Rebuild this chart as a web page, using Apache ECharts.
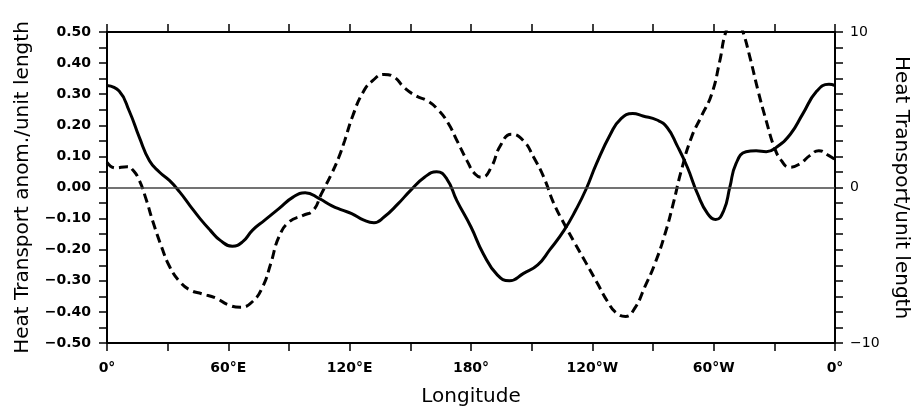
<!DOCTYPE html>
<html>
<head>
<meta charset="utf-8">
<title>Heat Transport</title>
<script src="https://cdn.jsdelivr.net/npm/echarts@6.0.0/dist/echarts.min.js"></script>
<style>
	html, body { margin: 0; padding: 0; background: #fff; }
	#main { width: 919px; height: 412px; }
</style>
</head>
<body>
<div id="main"></div>
<script>
// 经度刻度
var lonTicks = [0, 60, 120, 180, 240, 300, 360];
var lonLabels = ['0°', '60°E', '120°E', '180°', '120°W', '60°W', '0°'];

// 实线: Heat Transport anom./unit length (左轴)
var solidLon = [0, 6, 11, 16, 21, 26, 31, 36, 41, 46, 51, 56, 62, 67, 72, 78, 85, 92, 98, 105,
	111, 116, 121, 127, 132, 137, 144, 150, 157, 163, 168, 173, 180, 186, 193, 199, 206, 213, 219, 226,
	232, 237, 242, 249, 254, 260, 265, 272, 277, 282, 287, 292, 297, 301, 305, 308, 311, 316, 321, 326,
	331, 338, 344, 351, 357, 360];
var solidVal = [0.328, 0.31, 0.246, 0.161, 0.086, 0.049, 0.022, -0.015, -0.058, -0.10, -0.137, -0.17, -0.189, -0.175, -0.137, -0.105, -0.068, -0.031, -0.017, -0.036,
	-0.058, -0.072, -0.084, -0.105, -0.113, -0.095, -0.052, -0.01, 0.033, 0.051, 0.028, -0.042, -0.127, -0.212, -0.281, -0.30, -0.276, -0.249, -0.20, -0.138,
	-0.07, -0.004, 0.076, 0.172, 0.22, 0.238, 0.23, 0.217, 0.193, 0.134, 0.065, -0.02, -0.084, -0.103, -0.074, 0.001, 0.076, 0.115, 0.118, 0.115,
	0.129, 0.172, 0.236, 0.31, 0.332, 0.328];

// 虚线: Heat Transport/unit length (右轴)
var dashLon = [0, 4, 10, 13, 16, 19, 23, 27, 31, 36, 41, 47, 54, 60, 66, 72, 77, 81, 85, 90,
	97, 102, 106, 111, 114.5, 117.5, 121.5, 126.5, 131.5, 137, 142, 147, 153, 158.5, 163.5, 168.5, 173.5, 178, 182, 185.5,
	190, 194.5, 200, 206, 211, 216, 221, 226, 231, 237, 242.5, 247.5, 252, 256.5, 261, 266, 271, 276, 280, 284,
	289, 294, 299, 303, 306, 310.5, 314.5, 318, 322, 326, 330, 333.5, 337.5, 342.5, 347.5, 352, 357, 360];
var dashVal = [1.62, 1.26, 1.34, 1.09, 0.45, -0.62, -2.32, -3.82, -5.1, -6.06, -6.59, -6.84, -7.12, -7.55, -7.7, -7.33, -6.38, -4.88, -3.18, -2.22,
	-1.79, -1.47, -0.41, 0.87, 1.9, 3.0, 4.6, 6.1, 6.89, 7.27, 7.1, 6.42, 5.88, 5.57, 5.03, 4.18, 2.9, 1.73, 0.87, 0.66,
	1.3, 2.69, 3.43, 3.0, 1.94, 0.66, -1.04, -2.32, -3.5, -4.88, -6.16, -7.33, -8.08, -8.29, -7.76, -6.38, -4.88, -2.96, -1.04, 1.09,
	3.22, 4.6, 6.0, 8.12, 10.0, 11.3, 10.0, 8.34, 6.2, 4.29, 2.58, 1.73, 1.3, 1.51, 2.05, 2.37, 2.05, 1.8];

var solidData = solidLon.map(function(x, i) { return [x, solidVal[i]]; });
var dashData = dashLon.map(function(x, i) { return [x, dashVal[i]]; });

var fontName = 'DejaVu Sans';
var minus = function(s) { return String(s).replace('-', '\u2212'); };

var myChart = echarts.init(document.getElementById('main'));

var axisLineStyle = { color: '#000', width: 2 };
var tickStyle = { color: '#000', width: 1.5 };

var option = {
	animation: false,
	backgroundColor: '#fff',
	grid: {
		left: 107,
		right: 80,
		top: 32,
		bottom: 67
	},
	xAxis: [{
		type: 'value',
		min: 0,
		max: 360,
		interval: 30,
		position: 'bottom',
		name: 'Longitude',
		nameLocation: 'middle',
		nameGap: 44,
		nameTextStyle: { fontFamily: fontName, fontSize: 20, color: '#000' },
		axisLine: { onZero: false, lineStyle: axisLineStyle },
		axisTick: { length: 8, lineStyle: tickStyle },
		splitLine: { show: false },
		axisLabel: {
			margin: 18,
			fontFamily: fontName,
			fontSize: 14,
			fontWeight: 'bold',
			color: '#000',
			formatter: function(v) {
				var k = lonTicks.indexOf(v);
				return k >= 0 ? lonLabels[k] : '';
			}
		}
	}, {
		type: 'value',
		min: 0,
		max: 360,
		interval: 30,
		position: 'top',
		axisLine: { onZero: false, lineStyle: axisLineStyle },
		axisTick: { length: 8, lineStyle: tickStyle },
		splitLine: { show: false },
		axisLabel: { show: false }
	}],
	yAxis: [{
		type: 'value',
		min: -0.5,
		max: 0.5,
		interval: 0.1,
		position: 'left',
		name: 'Heat Transport anom./unit length',
		nameLocation: 'middle',
		nameGap: 74,
		nameTextStyle: { fontFamily: fontName, fontSize: 20, color: '#000' },
		axisLine: { show: true, onZero: false, lineStyle: axisLineStyle },
		axisTick: { show: true, length: 8, lineStyle: tickStyle },
		minorTick: { show: true, splitNumber: 2, length: 8, lineStyle: tickStyle },
		splitLine: { show: false },
		axisLabel: {
			margin: 16,
			fontFamily: fontName,
			fontSize: 14,
			fontWeight: 'bold',
			color: '#000',
			formatter: function(v) { return minus(v.toFixed(2)); }
		}
	}, {
		type: 'value',
		min: -10,
		max: 10,
		interval: 10,
		position: 'right',
		name: 'Heat Transport/unit length',
		nameLocation: 'middle',
		nameRotate: -90,
		nameGap: 56,
		nameTextStyle: { fontFamily: fontName, fontSize: 20, color: '#000' },
		axisLine: { show: true, onZero: false, lineStyle: axisLineStyle },
		axisTick: { show: true, length: 8, lineStyle: tickStyle },
		minorTick: { show: true, splitNumber: 10, length: 8, lineStyle: tickStyle },
		splitLine: { show: false },
		axisLabel: {
			margin: 15,
			fontFamily: fontName,
			fontSize: 14,
			color: '#000',
			formatter: function(v) { return minus(v); }
		}
	}],
	series: [{
		name: 'anom',
		type: 'line',
		xAxisIndex: 0,
		yAxisIndex: 0,
		data: solidData,
		showSymbol: false,
		smooth: 0.5,
		lineStyle: { color: '#000', width: 3 },
		markLine: {
			silent: true,
			symbol: ['none', 'none'],
			label: { show: false },
			lineStyle: { color: '#444', width: 1.5, type: 'solid' },
			data: [{ yAxis: 0 }]
		}
	}, {
		name: 'total',
		type: 'line',
		xAxisIndex: 0,
		yAxisIndex: 1,
		data: dashData,
		showSymbol: false,
		smooth: 0.5,
		clip: true,
		lineStyle: { color: '#000', width: 3, type: [9, 5] }
	}]
};

myChart.setOption(option);
</script>
</body>
</html>
